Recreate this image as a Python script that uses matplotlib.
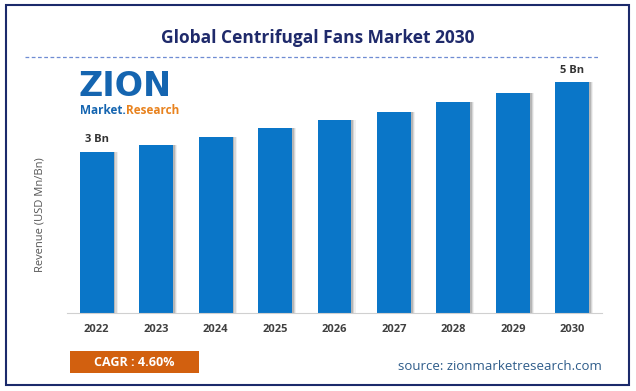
import matplotlib.pyplot as plt
from matplotlib.patches import Rectangle

# Data
years = ['2022', '2023', '2024', '2025', '2026', '2027', '2028', '2029', '2030']
revenue = [3.00, 3.13, 3.28, 3.45, 3.60, 3.75, 3.93, 4.10, 4.30]
bar_labels = {0: '3 Bn', 8: '5 Bn'}
cagr_text = 'CAGR : 4.60%'

W, H = 636, 391
fig = plt.figure(figsize=(W / 100, H / 100), dpi=100)
plt.rcParams['font.family'] = ['Open Sans', 'DejaVu Sans']

def fx(px):
    return px / W

def fy(py):
    return 1 - py / H

# outer border
fig.patches.append(Rectangle((fx(6), fy(385)), fx(623), 380 / H, transform=fig.transFigure,
                             fill=False, edgecolor='#1B2A6B', lw=1.5))

# title and dashed rule
fig.text(fx(318), fy(38), 'Global Centrifugal Fans Market 2030', ha='center', va='center',
         fontsize=12.5, fontweight='bold', color='#1F2A6B')
fig.add_artist(plt.Line2D([fx(25), fx(600)], [fy(57), fy(57)], transform=fig.transFigure,
                          color='#6F8CD3', lw=0.9, ls=(0, (3, 2))))

# bar chart area
ax = fig.add_axes([fx(67), fy(313), fx(602 - 67), (313 - 60) / H])
x = range(len(years))
# soft shadow on the right side of each bar
for off, a in [(0.07, 0.08), (0.05, 0.14), (0.03, 0.22)]:
    ax.bar([i + off for i in x], revenue, width=0.57, color='#444444', alpha=a, zorder=1)
ax.bar(x, revenue, width=0.57, color='#0A76C8', zorder=2)
for i, lab in bar_labels.items():
    ax.text(i, revenue[i] + 0.12, lab, ha='center', va='bottom', fontsize=8,
            fontweight='bold', color='#333333')

ax.set_xlim(-0.5, len(years) - 0.5)
ax.set_ylim(0, 4.71)
ax.set_xticks(list(x))
ax.set_xticklabels(years, fontsize=8, fontweight='bold', color='#404040')
ax.tick_params(axis='x', length=0, pad=8)
ax.set_yticks([])
for s in ['top', 'right', 'left']:
    ax.spines[s].set_visible(False)
ax.spines['bottom'].set_color('#D0D0D0')
ax.set_facecolor('none')

fig.text(fx(40), fy(215), 'Revenue (USD Mn/Bn)', rotation=90, ha='center', va='center',
         fontsize=8, color='#555555')

# logo
fig.text(fx(79), fy(86), 'ZION', ha='left', va='center', fontsize=24, fontweight='bold',
         color='#1565B0', family='DejaVu Sans')
t1 = fig.text(fx(80), fy(110), 'Market.', ha='left', va='center', fontsize=8.5,
              fontweight='bold', color='#1565B0')
r = fig.canvas.get_renderer()
bb = t1.get_window_extent(r)
fig.text(bb.x1 / W, fy(110), 'Research', ha='left', va='center', fontsize=8.5,
         fontweight='bold', color='#E8821E')

# CAGR box
fig.patches.append(Rectangle((fx(70), fy(373)), fx(129), 22 / H, transform=fig.transFigure,
                             facecolor='#D2600F', edgecolor='none'))
fig.text(fx(134), fy(362), cagr_text, ha='center', va='center', fontsize=9,
         fontweight='bold', color='white')

fig.text(fx(602), fy(366), 'source: zionmarketresearch.com', ha='right', va='center',
         fontsize=9.5, color='#2E5C8A')

fig.savefig('out.png', dpi=100)
